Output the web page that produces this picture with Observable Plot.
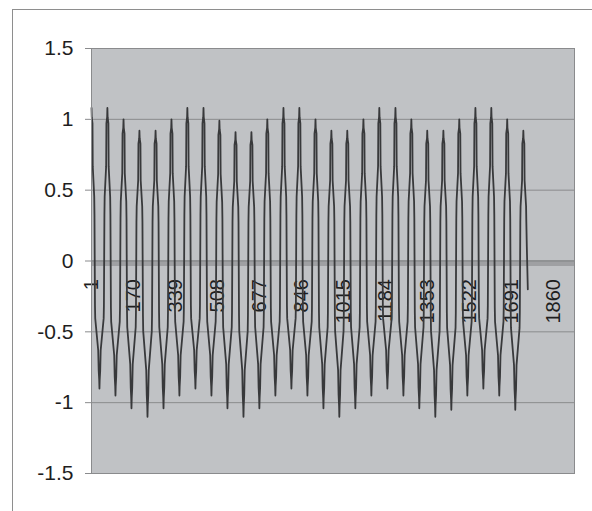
<!DOCTYPE html>
<html>
<head>
<meta charset="utf-8">
<script src="https://cdn.jsdelivr.net/npm/d3@7"></script>
<script src="https://cdn.jsdelivr.net/npm/@observablehq/plot@0.6"></script>
<style>
  html, body { margin: 0; padding: 0; background: #fff; }
  #wrap { position: relative; width: 592px; height: 511px; overflow: hidden; }
  #border { position: absolute; left: 12px; top: 9px; right: -2px; bottom: -2px;
            border-top: 1px solid #8e8e8e; border-left: 1px solid #8e8e8e; }
  #chart { position: absolute; left: 0; top: 0; }
</style>
</head>
<body>
<div id="wrap"><div id="border"></div><div id="chart"></div></div>
<script>
// Category axis
const xDomain = [1, 1946];
const xTicks = [1, 170, 339, 508, 677, 846, 1015, 1184, 1353, 1522, 1691, 1860];
const yTicks = [-1.5, -1, -0.5, 0, 0.5, 1, 1.5];
const yTickLabels = ["-1.5", "-1", "-0.5", "0", "0.5", "1", "1.5"];

// Waveform: sample index of each peak, peak values, trough values
const peakIdx = [1, 65, 130, 194, 259, 323, 387, 452, 516, 581, 645, 709, 774, 838,
                 903, 967, 1031, 1096, 1160, 1225, 1289, 1353, 1418, 1482, 1547, 1611, 1675, 1740];
const peakVal = [1.08, 1.08, 1.0, 0.92, 0.92, 1.0, 1.08, 1.08, 0.99, 0.91, 0.91, 1.0, 1.08, 1.08,
                 1.0, 0.92, 0.92, 1.0, 1.08, 1.08, 1.0, 0.92, 0.92, 1.0, 1.08, 1.08, 1.0, 0.92];
const troughVal = [-0.9, -0.95, -1.04, -1.1, -1.04, -0.95, -0.9, -0.95, -1.04, -1.1, -1.04, -0.95,
                   -0.9, -0.95, -1.04, -1.1, -1.04, -0.95, -0.9, -0.95, -1.04, -1.1, -1.05, -0.95,
                   -0.9, -0.95, -1.05];
// shape of one half cycle, peak -> trough: [sample offset (of 32), relative level]
const halfShape = [[0, 1], [1, 0.94], [4, 0.9], [5, 0.62], [11, 0.42], [12, 0.3], [14, -0.35],
                   [15, -0.45], [27, -0.7], [29, -0.86], [31, -0.93], [32, -1]];
const lastPoint = [1758, -0.2];

const pts = [];
for (let k = 0; k < peakIdx.length; k++) {
  const p = peakIdx[k], P = peakVal[k];
  if (k < peakIdx.length - 1) {
    const q = peakIdx[k + 1], half = (q - p) / 2, T = Math.abs(troughVal[k]);
    halfShape.forEach(([u, v], j) => {
      if (k > 0 && j === 0) return;
      pts.push({i: p + u * half / 32, v: v >= 0 ? v * P : v * T});
    });
    for (let j = halfShape.length - 2; j >= 0; j--) {
      const [u, v] = halfShape[j];
      pts.push({i: q - u * half / 32, v: v >= 0 ? v * peakVal[k + 1] : v * T});
    }
  } else {
    halfShape.forEach(([u, v], j) => {
      if (j === 0 || v < 0) return;
      pts.push({i: p + u, v: v * P});
    });
    pts.push({i: lastPoint[0] - 4, v: 0.1});
    pts.push({i: lastPoint[0], v: lastPoint[1]});
  }
}

const font = "'Liberation Sans', Arial, sans-serif";
const chart = Plot.plot({
  width: 592, height: 511,
  marginLeft: 91, marginRight: 18, marginTop: 48, marginBottom: 38,
  style: {fontFamily: font, background: "transparent", color: "#1e1e1e"},
  x: {domain: xDomain, axis: null, label: null},
  y: {domain: [-1.5, 1.5], axis: null, label: null},
  marks: [
    Plot.frame({fill: "#c0c2c5", stroke: "none"}),
    Plot.ruleY(yTicks, {stroke: "#8a8b8d", strokeWidth: 1}),
    Plot.axisY(yTicks, {tickSize: 6, tickPadding: 12, stroke: "#8a8b8d", fill: "#1e1e1e", label: null,
      fontSize: 21, tickFormat: d => yTickLabels[yTicks.indexOf(d)]}),
    Plot.ruleY([0], {stroke: "#9fa0a3", strokeWidth: 4, dy: 3}),
    Plot.ruleY([0], {stroke: "#8a8b8e", strokeWidth: 1.5}),
    Plot.text(xTicks, {x: d => d, y: 0, text: d => String(d), rotate: -90, textAnchor: "end",
      dy: 18, fontSize: 20, fill: "#1e1e1e"}),
    Plot.line(pts, {x: "i", y: "v", stroke: "#38393b", strokeWidth: 1.8}),
    Plot.frame({stroke: "#8a8b8d"})
  ]
});
document.getElementById("chart").appendChild(chart);
</script>
</body>
</html>
